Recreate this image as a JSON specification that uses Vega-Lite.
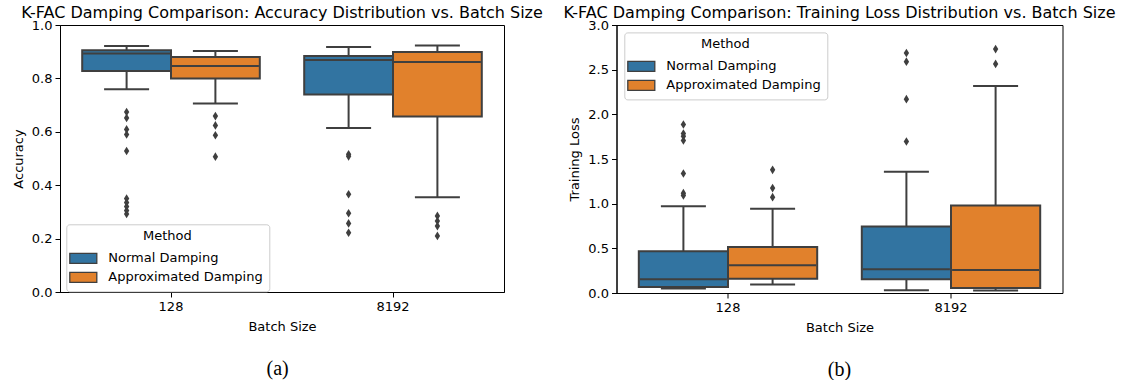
{
  "$schema": "https://vega.github.io/schema/vega-lite/v6.json",
  "background": "white",
  "padding": {"left": 11, "top": 4, "right": 0, "bottom": 0},
  "spacing": 18.5,
  "datasets": {
    "acc_boxes": [
      {"batch": "128", "method": "Normal Damping", "lower": 0.759, "q1": 0.828, "median": 0.893, "q3": 0.905, "upper": 0.921},
      {"batch": "128", "method": "Approximated Damping", "lower": 0.706, "q1": 0.800, "median": 0.846, "q3": 0.880, "upper": 0.903},
      {"batch": "8192", "method": "Normal Damping", "lower": 0.614, "q1": 0.740, "median": 0.869, "q3": 0.884, "upper": 0.918},
      {"batch": "8192", "method": "Approximated Damping", "lower": 0.355, "q1": 0.657, "median": 0.861, "q3": 0.899, "upper": 0.923}
    ],
    "acc_outliers": [
      {"batch": "128", "method": "Normal Damping", "value": 0.674},
      {"batch": "128", "method": "Normal Damping", "value": 0.652},
      {"batch": "128", "method": "Normal Damping", "value": 0.609},
      {"batch": "128", "method": "Normal Damping", "value": 0.590},
      {"batch": "128", "method": "Normal Damping", "value": 0.528},
      {"batch": "128", "method": "Normal Damping", "value": 0.350},
      {"batch": "128", "method": "Normal Damping", "value": 0.335},
      {"batch": "128", "method": "Normal Damping", "value": 0.320},
      {"batch": "128", "method": "Normal Damping", "value": 0.305},
      {"batch": "128", "method": "Normal Damping", "value": 0.292},
      {"batch": "128", "method": "Approximated Damping", "value": 0.659},
      {"batch": "128", "method": "Approximated Damping", "value": 0.624},
      {"batch": "128", "method": "Approximated Damping", "value": 0.587},
      {"batch": "128", "method": "Approximated Damping", "value": 0.507},
      {"batch": "8192", "method": "Normal Damping", "value": 0.516},
      {"batch": "8192", "method": "Normal Damping", "value": 0.508},
      {"batch": "8192", "method": "Normal Damping", "value": 0.366},
      {"batch": "8192", "method": "Normal Damping", "value": 0.295},
      {"batch": "8192", "method": "Normal Damping", "value": 0.257},
      {"batch": "8192", "method": "Normal Damping", "value": 0.222},
      {"batch": "8192", "method": "Approximated Damping", "value": 0.285},
      {"batch": "8192", "method": "Approximated Damping", "value": 0.266},
      {"batch": "8192", "method": "Approximated Damping", "value": 0.247},
      {"batch": "8192", "method": "Approximated Damping", "value": 0.210}
    ],
    "loss_boxes": [
      {"batch": "128", "method": "Normal Damping", "lower": 0.049, "q1": 0.067, "median": 0.153, "q3": 0.466, "upper": 0.970},
      {"batch": "128", "method": "Approximated Damping", "lower": 0.094, "q1": 0.160, "median": 0.310, "q3": 0.514, "upper": 0.943},
      {"batch": "8192", "method": "Normal Damping", "lower": 0.030, "q1": 0.153, "median": 0.265, "q3": 0.745, "upper": 1.357},
      {"batch": "8192", "method": "Approximated Damping", "lower": 0.027, "q1": 0.056, "median": 0.257, "q3": 0.980, "upper": 2.318}
    ],
    "loss_outliers": [
      {"batch": "128", "method": "Normal Damping", "value": 1.886},
      {"batch": "128", "method": "Normal Damping", "value": 1.785},
      {"batch": "128", "method": "Normal Damping", "value": 1.755},
      {"batch": "128", "method": "Normal Damping", "value": 1.707},
      {"batch": "128", "method": "Normal Damping", "value": 1.338},
      {"batch": "128", "method": "Normal Damping", "value": 1.118},
      {"batch": "128", "method": "Normal Damping", "value": 1.092},
      {"batch": "128", "method": "Approximated Damping", "value": 1.379},
      {"batch": "128", "method": "Approximated Damping", "value": 1.174},
      {"batch": "128", "method": "Approximated Damping", "value": 1.073},
      {"batch": "8192", "method": "Normal Damping", "value": 2.687},
      {"batch": "8192", "method": "Normal Damping", "value": 2.590},
      {"batch": "8192", "method": "Normal Damping", "value": 2.170},
      {"batch": "8192", "method": "Normal Damping", "value": 1.696},
      {"batch": "8192", "method": "Approximated Damping", "value": 2.730},
      {"batch": "8192", "method": "Approximated Damping", "value": 2.564}
    ]
  },
  "config": {
    "font": "DejaVu Sans",
    "view": {"stroke": "#000000", "strokeWidth": 1},
    "axis": {
      "grid": false,
      "domainColor": "#000000",
      "tickColor": "#000000",
      "tickSize": 5,
      "labelColor": "#000000",
      "labelFont": "DejaVu Sans",
      "labelFontSize": 13,
      "labelPadding": 3,
      "titleColor": "#000000",
      "titleFont": "DejaVu Sans",
      "titleFontSize": 13,
      "titleFontWeight": "normal"
    },
    "legend": {
      "orient": "none",
      "fillColor": "#ffffff",
      "strokeColor": "#cccccc",
      "cornerRadius": 3,
      "padding": 6,
      "titleFont": "DejaVu Sans",
      "titleFontSize": 13,
      "titleFontWeight": "normal",
      "titleColor": "#000000",
      "titleAnchor": "middle",
      "titlePadding": 4,
      "labelFont": "DejaVu Sans",
      "labelFontSize": 13,
      "labelColor": "#000000",
      "labelOffset": 14,
      "rowPadding": 0,
      "symbolType": "M-1.35,-0.5H1.35V0.5H-1.35Z",
      "symbolSize": 400,
      "symbolStrokeColor": "#3f3f3f",
      "symbolStrokeWidth": 1.3,
      "symbolOpacity": 1
    },
    "title": {"fontWeight": "normal", "color": "#000000"}
  },
  "hconcat": [
    {
      "title": {"text": "(a)", "orient": "bottom", "anchor": "middle", "font": "Liberation Serif", "fontSize": 20, "offset": 25},
      "resolve": {"scale": {"color": "independent"}, "legend": {"color": "independent"}},
      "vconcat": [
        {
          "width": 444,
          "height": 267,
          "title": {"text": "K-FAC Damping Comparison: Accuracy Distribution vs. Batch Size", "frame": "group", "anchor": "middle", "font": "DejaVu Sans", "fontSize": 16, "baseline": "alphabetic", "offset": -15},
          "encoding": {
            "x": {"field": "batch", "type": "nominal", "sort": ["128", "8192"], "scale": {"paddingInner": 0.2, "paddingOuter": 0.1}, "axis": {"title": "Batch Size", "labelAngle": 0, "titlePadding": 7}},
            "xOffset": {"field": "method", "type": "nominal", "sort": ["Normal Damping", "Approximated Damping"], "scale": {"paddingInner": 0, "paddingOuter": 0}}
          },
          "layer": [
            {
              "data": {"name": "acc_boxes"},
              "mark": {"type": "rule", "color": "#3f3f3f", "strokeWidth": 2},
              "encoding": {
                "y": {"field": "lower", "type": "quantitative", "title": "Accuracy", "scale": {"domain": [0, 1], "nice": false}, "axis": {"values": [0, 0.2, 0.4, 0.6, 0.8, 1.0], "format": ".1f", "titlePadding": 6}},
                "y2": {"field": "upper"}
              }
            },
            {
              "data": {"name": "acc_boxes"},
              "mark": {"type": "bar", "stroke": "#3f3f3f", "strokeWidth": 2},
              "encoding": {
                "y": {"field": "q1", "type": "quantitative", "title": "Accuracy"},
                "y2": {"field": "q3"},
                "color": {"field": "method", "type": "nominal", "sort": ["Normal Damping", "Approximated Damping"], "scale": {"domain": ["Normal Damping", "Approximated Damping"], "range": ["#3274a1", "#e1812c"]}, "legend": {"title": "Method", "legendX": 6.3, "legendY": 199.3}}
              }
            },
            {
              "data": {"name": "acc_boxes"},
              "mark": {"type": "tick", "color": "#3f3f3f", "thickness": 2, "size": 87, "opacity": 1},
              "encoding": {"y": {"field": "median", "type": "quantitative", "title": "Accuracy"}}
            },
            {
              "data": {"name": "acc_boxes"},
              "mark": {"type": "tick", "color": "#3f3f3f", "thickness": 2, "size": 45, "opacity": 1},
              "encoding": {"y": {"field": "lower", "type": "quantitative", "title": "Accuracy"}}
            },
            {
              "data": {"name": "acc_boxes"},
              "mark": {"type": "tick", "color": "#3f3f3f", "thickness": 2, "size": 45, "opacity": 1},
              "encoding": {"y": {"field": "upper", "type": "quantitative", "title": "Accuracy"}}
            },
            {
              "data": {"name": "acc_outliers"},
              "mark": {"type": "point", "shape": "M0,-1L0.62,0L0,1L-0.62,0Z", "filled": true, "color": "#3f3f3f", "size": 75, "opacity": 1},
              "encoding": {"y": {"field": "value", "type": "quantitative", "title": "Accuracy"}}
            }
          ]
        }
      ]
    },
    {
      "title": {"text": "(b)", "orient": "bottom", "anchor": "middle", "font": "Liberation Serif", "fontSize": 20, "offset": 25},
      "resolve": {"scale": {"color": "independent"}, "legend": {"color": "independent"}},
      "vconcat": [
        {
          "width": 446,
          "height": 268,
          "title": {"text": "K-FAC Damping Comparison: Training Loss Distribution vs. Batch Size", "frame": "group", "anchor": "middle", "font": "DejaVu Sans", "fontSize": 16, "baseline": "alphabetic", "offset": -15},
          "encoding": {
            "x": {"field": "batch", "type": "nominal", "sort": ["128", "8192"], "scale": {"paddingInner": 0.2, "paddingOuter": 0.1}, "axis": {"title": "Batch Size", "labelAngle": 0, "titlePadding": 7}},
            "xOffset": {"field": "method", "type": "nominal", "sort": ["Normal Damping", "Approximated Damping"], "scale": {"paddingInner": 0, "paddingOuter": 0}}
          },
          "layer": [
            {
              "data": {"name": "loss_boxes"},
              "mark": {"type": "rule", "color": "#3f3f3f", "strokeWidth": 2},
              "encoding": {
                "y": {"field": "lower", "type": "quantitative", "title": "Training Loss", "scale": {"domain": [0, 3], "nice": false}, "axis": {"values": [0, 0.5, 1.0, 1.5, 2.0, 2.5, 3.0], "format": ".1f", "titlePadding": 6}},
                "y2": {"field": "upper"}
              }
            },
            {
              "data": {"name": "loss_boxes"},
              "mark": {"type": "bar", "stroke": "#3f3f3f", "strokeWidth": 2},
              "encoding": {
                "y": {"field": "q1", "type": "quantitative", "title": "Training Loss"},
                "y2": {"field": "q3"},
                "color": {"field": "method", "type": "nominal", "sort": ["Normal Damping", "Approximated Damping"], "scale": {"domain": ["Normal Damping", "Approximated Damping"], "range": ["#3274a1", "#e1812c"]}, "legend": {"title": "Method", "legendX": 7.8, "legendY": 7.4}}
              }
            },
            {
              "data": {"name": "loss_boxes"},
              "mark": {"type": "tick", "color": "#3f3f3f", "thickness": 2, "size": 87, "opacity": 1},
              "encoding": {"y": {"field": "median", "type": "quantitative", "title": "Training Loss"}}
            },
            {
              "data": {"name": "loss_boxes"},
              "mark": {"type": "tick", "color": "#3f3f3f", "thickness": 2, "size": 45, "opacity": 1},
              "encoding": {"y": {"field": "lower", "type": "quantitative", "title": "Training Loss"}}
            },
            {
              "data": {"name": "loss_boxes"},
              "mark": {"type": "tick", "color": "#3f3f3f", "thickness": 2, "size": 45, "opacity": 1},
              "encoding": {"y": {"field": "upper", "type": "quantitative", "title": "Training Loss"}}
            },
            {
              "data": {"name": "loss_outliers"},
              "mark": {"type": "point", "shape": "M0,-1L0.62,0L0,1L-0.62,0Z", "filled": true, "color": "#3f3f3f", "size": 75, "opacity": 1},
              "encoding": {"y": {"field": "value", "type": "quantitative", "title": "Training Loss"}}
            }
          ]
        }
      ]
    }
  ],
  "resolve": {"scale": {"color": "independent", "y": "independent", "x": "independent", "xOffset": "independent"}, "legend": {"color": "independent"}}
}
